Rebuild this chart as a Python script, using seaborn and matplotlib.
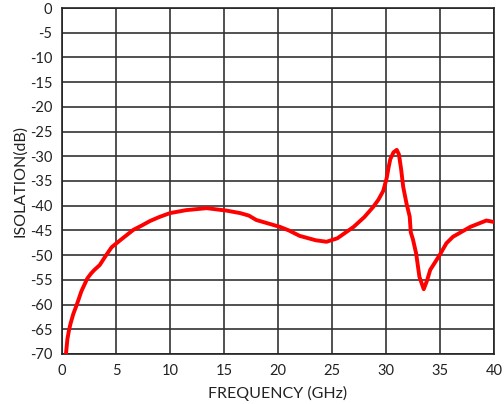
# Isolation vs frequency curve
import numpy as np
import pandas as pd
import matplotlib.pyplot as plt
import seaborn as sns

# --- Data ---
freq_ghz = [0.37, 0.5, 0.65, 0.8, 1.05, 1.36, 1.8, 2.35, 2.7, 3.0, 3.5, 4.0, 4.6,
            5.5, 6.6, 7.4, 8.15, 9.0, 10.0, 11.5, 13.4, 15.25, 16.5, 17.3, 18.0,
            20.2, 21.0, 22.0, 23.5, 24.5, 25.5, 27.0, 28.0, 28.8, 29.3, 29.75,
            30.06, 30.25, 30.4, 30.7, 31.0, 31.2, 31.4, 31.6, 31.9, 32.2, 32.3,
            32.5, 32.8, 33.1, 33.5, 33.8, 34.1, 35.0, 35.6, 36.2, 37.0, 37.8,
            39.3, 40.0]
isolation_db = [-70.0, -67.0, -65.2, -63.8, -61.9, -60.1, -57.3, -54.7, -53.7,
                -53.0, -52.0, -50.3, -48.4, -46.8, -44.9, -44.0, -43.1, -42.3,
                -41.5, -40.9, -40.5, -41.0, -41.5, -42.0, -42.9, -44.3, -45.0,
                -46.1, -47.0, -47.3, -46.6, -44.3, -42.3, -40.3, -38.8, -37.0,
                -34.5, -32.2, -30.6, -29.2, -28.7, -29.6, -32.5, -36.2, -39.5,
                -42.2, -45.4, -46.8, -49.7, -54.4, -56.9, -55.2, -53.0, -49.9,
                -47.6, -46.3, -45.3, -44.3, -43.0, -43.3]

x_ticks = np.arange(0, 41, 5)
y_ticks = np.arange(-70, 1, 5)

df = pd.DataFrame({"freq": freq_ghz, "iso": isolation_db})

sns.set_theme(style="white")
plt.rcParams['font.family'] = ['Lato', 'DejaVu Sans']
plt.rcParams['axes.unicode_minus'] = False

fig, ax = plt.subplots(figsize=(5.04, 4.04), dpi=100)
fig.subplots_adjust(left=0.123, right=0.980, top=0.980, bottom=0.124)

sns.lineplot(data=df, x="freq", y="iso", color="#ff0000", linewidth=2.8,
             sort=False, ax=ax, zorder=3, solid_joinstyle="round",
             solid_capstyle="round")

ax.set_xlim(0, 40)
ax.set_ylim(-70, 0)
ax.set_xticks(x_ticks)
ax.set_yticks(y_ticks)
ax.grid(True, color="#333333", linewidth=1.2)
for s in ax.spines.values():
    s.set_color("#222222")
    s.set_linewidth(1.2)
ax.tick_params(axis="both", labelsize=10.5, colors="#222222", length=0, pad=7)
ax.set_xlabel("FREQUENCY (GHz)", fontsize=11.5, color="#222222", labelpad=6)
ax.set_ylabel("ISOLATION(dB)", fontsize=11.5, color="#222222", labelpad=2)

plt.savefig("out.png", dpi=100)
